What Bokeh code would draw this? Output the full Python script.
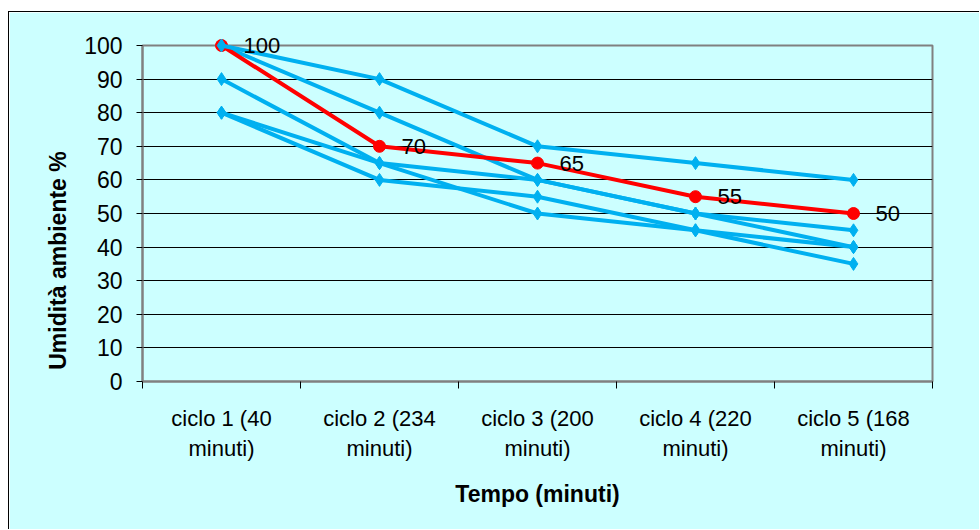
import math

from bokeh.plotting import figure
from bokeh.models import FixedTicker, LinearAxis, Range1d, CustomLabelingPolicy
from bokeh.core.properties import value
from bokeh.embed import file_html
from bokeh.resources import INLINE

# Categories (x axis) and tick labels
categories = [
    "ciclo 1 (40\nminuti)",
    "ciclo 2 (234\nminuti)",
    "ciclo 3 (200\nminuti)",
    "ciclo 4 (220\nminuti)",
    "ciclo 5 (168\nminuti)",
]
y_ticks = [0, 10, 20, 30, 40, 50, 60, 70, 80, 90, 100]

# Humidity series (%)
media = [100, 70, 65, 55, 50]
serie_1 = [100, 90, 70, 65, 60]
serie_2 = [100, 80, 60, 50, 45]
serie_3 = [90, 65, 60, 50, 40]
serie_4 = [80, 65, 50, 45, 40]
serie_5 = [80, 60, 55, 45, 35]

BG = "#CCFFFF"
BLUE = "#00B0F0"
RED = "#FF0000"
FONT = "Liberation Sans"

xs = list(range(1, len(categories) + 1))
bounds = [x - 0.5 for x in xs] + [xs[-1] + 0.5]

p = figure(
    width=971, height=518,
    x_range=Range1d(bounds[0], bounds[-1]),
    y_range=Range1d(y_ticks[0], y_ticks[-1]),
    output_backend="svg", toolbar_location=None,
    min_border_left=133, min_border_right=48,
    min_border_top=33, min_border_bottom=149,
)
p.margin = (11, 0, 0, 8)
p.styles = {"border-top": "1px solid #000000", "border-left": "1px solid #000000"}
p.background_fill_color = BG
p.border_fill_color = BG
p.outline_line_color = "#808080"
p.outline_line_width = 2

# horizontal grid
p.xgrid.visible = False
p.ygrid.ticker = FixedTicker(ticks=y_ticks)
p.ygrid.grid_line_color = "#000000"
p.ygrid.grid_line_width = 1

# y axis
ya = p.yaxis[0]
ya.ticker = FixedTicker(ticks=y_ticks)
ya.axis_line_color = "#808080"
ya.axis_line_width = 2
ya.major_tick_line_color = "#000000"
ya.major_tick_out = 6
ya.major_tick_in = 0
ya.minor_tick_line_color = None
ya.major_label_text_font = FONT
ya.major_label_text_font_size = "23px"
ya.major_label_text_color = "#000000"
ya.major_label_standoff = 14

# x axis: tick marks at category boundaries, no labels
xa = p.xaxis[0]
xa.ticker = FixedTicker(ticks=bounds)
xa.axis_line_color = "#808080"
xa.axis_line_width = 2
xa.major_tick_line_color = "#000000"
xa.major_tick_out = 7
xa.major_tick_in = 0
xa.minor_tick_line_color = None
xa.major_label_standoff = 0
xa.major_label_policy = CustomLabelingPolicy(code="return []")

# x axis: category labels centred on each category
xl = LinearAxis(
    ticker=FixedTicker(ticks=xs),
    major_label_overrides={x: c for x, c in zip(xs, categories)},
    axis_line_color=None,
    major_tick_line_color=None,
    minor_tick_line_color=None,
    major_label_text_font=FONT,
    major_label_text_font_size="22px",
    major_label_text_color="#000000",
    major_label_standoff=0,
    axis_label="Tempo (minuti)",
    axis_label_text_font=FONT,
    axis_label_text_font_size="23px",
    axis_label_text_font_style="bold",
    axis_label_text_color="#000000",
    axis_label_standoff=17,
)
p.add_layout(xl, "below")

# blue series underneath the red one
for s in (serie_2, serie_3, serie_4, serie_5):
    r = p.line(xs, s, line_color=BLUE, line_width=4, line_join="round")
    r.level = "overlay"
    m = p.scatter(xs, s, marker="diamond", size=13, color=BLUE)
    m.level = "overlay"

r = p.line(xs, media, line_color=RED, line_width=4, line_join="round")
r.level = "overlay"
m = p.scatter(xs, media, marker="circle", size=12, color=RED)
m.level = "overlay"

r = p.line(xs, serie_1, line_color=BLUE, line_width=4, line_join="round")
r.level = "overlay"
m = p.scatter(xs, serie_1, marker="diamond", size=13, color=BLUE)
m.level = "overlay"

# value labels of the red series
t = p.text(
    x=xs, y=media, text=[str(v) for v in media],
    x_offset=22, text_align="left", text_baseline="middle",
    text_font=value(FONT), text_font_size="22px", text_color="#000000",
)
t.level = "overlay"

# y axis title, centred on the whole chart height
yt = p.text(
    x=[bounds[0]], y=[36], text=["Umidità ambiente %"],
    x_offset=-85, angle=math.pi / 2,
    text_align="center", text_baseline="middle",
    text_font=value(FONT), text_font_size="23px", text_font_style="bold",
    text_color="#000000",
)
yt.level = "overlay"

open("out.html", "w").write(file_html(p, INLINE))
